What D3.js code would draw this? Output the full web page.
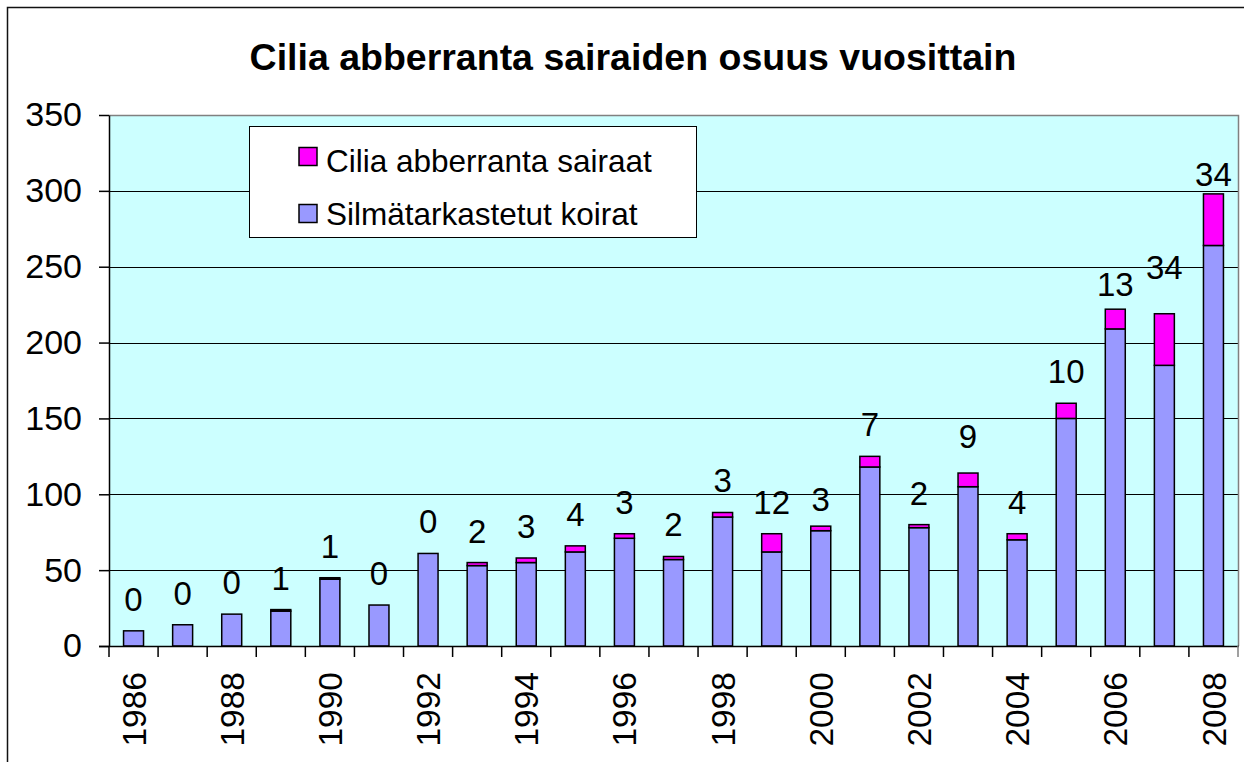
<!DOCTYPE html>
<html>
<head>
<meta charset="utf-8">
<script src="https://cdn.jsdelivr.net/npm/d3@7"></script>
<style>
  body { margin: 0; background: #fff; }
  text { font-family: "Liberation Sans", Arial, sans-serif; fill: #000; }
</style>
</head>
<body>
<div id="chart"></div>
<script>
// data
var years = [1986, 1987, 1988, 1989, 1990, 1991, 1992, 1993, 1994, 1995, 1996, 1997,
             1998, 1999, 2000, 2001, 2002, 2003, 2004, 2005, 2006, 2007, 2008];
var examined = [10, 14, 21, 23, 44, 27, 61, 53, 55, 62, 71, 57,
                85, 62, 76, 118, 78, 105, 70, 150, 209, 185, 264];
var affected = [0, 0, 0, 1, 1, 0, 0, 2, 3, 4, 3, 2,
                3, 12, 3, 7, 2, 9, 4, 10, 13, 34, 34];
var yTicks = [0, 50, 100, 150, 200, 250, 300, 350];
var xLabelYears = [1986, 1988, 1990, 1992, 1994, 1996, 1998, 2000, 2002, 2004, 2006, 2008];
var seriesNames = ["Cilia abberranta sairaat", "Silmätarkastetut koirat"];
var title = "Cilia abberranta sairaiden osuus vuosittain";

// labels that were dragged by hand in the original (pixels)
var labelNudge = {2000: 5, 2003: -5, 2006: 7, 2007: -15, 2008: 12};

var W = 1244, H = 762;
var plot = {left: 109, right: 1238, top: 115, bottom: 646};
var colBase = "#9999FF", colSick = "#FF00FF", bg = "#CCFFFF";

var svg = d3.select("#chart").append("svg")
    .attr("width", W).attr("height", H);

// outer chart frame
svg.append("rect")
    .attr("x", 7.5).attr("y", 7.5)
    .attr("width", 1262).attr("height", 800)
    .attr("fill", "#fff").attr("stroke", "#111").attr("stroke-width", 1.5);

svg.append("text")
    .attr("x", 633).attr("y", 70)
    .attr("text-anchor", "middle")
    .style("font-size", "37.5px").style("font-weight", "bold")
    .text(title);

var x = d3.scaleBand()
    .domain(years)
    .range([plot.left, plot.right])
    .paddingInner(0.593)
    .paddingOuter(0.2965);

var y = d3.scaleLinear()
    .domain([0, 350])
    .range([plot.bottom, plot.top]);

var step = x.step();

// plot background
svg.append("rect")
    .attr("x", plot.left).attr("y", plot.top)
    .attr("width", plot.right - plot.left).attr("height", plot.bottom - plot.top)
    .attr("fill", bg);

// grid lines
svg.selectAll(".grid")
    .data(yTicks.filter(function(d) { return d > 0 && d < 350; }))
    .enter().append("line")
    .attr("class", "grid")
    .attr("x1", plot.left).attr("x2", plot.right)
    .attr("y1", function(d) { return Math.round(y(d)) + 0.5; })
    .attr("y2", function(d) { return Math.round(y(d)) + 0.5; })
    .attr("stroke", "#000").attr("stroke-width", 1);

// plot border (grey top + right)
svg.append("path")
    .attr("d", "M" + plot.left + "," + (plot.top + 0.5) + "H" + (plot.right + 0.5) + "V" + plot.bottom)
    .attr("fill", "none").attr("stroke", "#808080").attr("stroke-width", 1.5);

// legend
var leg = svg.append("g").attr("class", "legend");
leg.append("rect")
    .attr("x", 249.5).attr("y", 126.5)
    .attr("width", 447).attr("height", 111)
    .attr("fill", "#fff").attr("stroke", "#000").attr("stroke-width", 1);
var legItems = [{name: seriesNames[0], col: colSick}, {name: seriesNames[1], col: colBase}];
var li = leg.selectAll(".li").data(legItems).enter().append("g")
    .attr("transform", function(d, i) { return "translate(0," + (157 + i * 57) + ")"; });
li.append("rect")
    .attr("x", 299).attr("y", -9.5)
    .attr("width", 18).attr("height", 18)
    .attr("fill", function(d) { return d.col; })
    .attr("stroke", "#000").attr("stroke-width", 1.5);
li.append("text")
    .attr("x", 326).attr("y", function(d, i) { return i === 0 ? 15 : 11; })
    .style("font-size", "31.5px")
    .text(function(d) { return d.name; });

// bars
var rows = years.map(function(yr, i) {
    return {year: yr, base: examined[i], sick: affected[i], total: examined[i] + affected[i]};
});

var bar = svg.selectAll(".bar").data(rows).enter().append("g").attr("class", "bar");

bar.append("rect")
    .attr("x", function(d) { return x(d.year); })
    .attr("width", x.bandwidth())
    .attr("y", function(d) { return y(d.base); })
    .attr("height", function(d) { return y(0) - y(d.base); })
    .attr("fill", colBase).attr("stroke", "#000").attr("stroke-width", 1.5);

bar.filter(function(d) { return d.sick > 0; }).append("rect")
    .attr("x", function(d) { return x(d.year); })
    .attr("width", x.bandwidth())
    .attr("y", function(d) { return y(d.total); })
    .attr("height", function(d) { return y(d.base) - y(d.total); })
    .attr("fill", colSick).attr("stroke", "#000").attr("stroke-width", 1.5);

bar.append("text")
    .attr("x", function(d) { return x(d.year) + x.bandwidth() / 2; })
    .attr("y", function(d) { return y(d.total) - 32 + 12 + (labelNudge[d.year] || 0); })
    .attr("text-anchor", "middle")
    .style("font-size", "33px")
    .text(function(d) { return d.sick; });

// y axis
var yAxis = svg.append("g")
    .attr("transform", "translate(" + plot.left + ",0)")
    .call(d3.axisLeft(y).tickValues(yTicks).tickSize(10).tickSizeOuter(0).tickPadding(17));
yAxis.select(".domain").attr("stroke", "#000").attr("stroke-width", 1.5);
yAxis.selectAll(".tick line").attr("stroke", "#000").attr("stroke-width", 1.5);
yAxis.selectAll(".tick text")
    .style("font-size", "34px")
    .style("font-family", "'Liberation Sans', Arial, sans-serif")
    .attr("fill", "#000");

// x axis: baseline, ticks between categories, every other year labelled
var xg = svg.append("g");
xg.append("line")
    .attr("x1", plot.left - 10).attr("x2", plot.right + 1)
    .attr("y1", plot.bottom + 0.5).attr("y2", plot.bottom + 0.5)
    .attr("stroke", "#000").attr("stroke-width", 1.5);
xg.selectAll(".xt").data(d3.range(years.length + 1)).enter().append("line")
    .attr("x1", function(i) { return x.range()[0] + i * step; })
    .attr("x2", function(i) { return x.range()[0] + i * step; })
    .attr("y1", plot.bottom).attr("y2", plot.bottom + 11)
    .attr("stroke", function(i) { return i === years.length ? "#808080" : "#000"; })
    .attr("stroke-width", 1.5);
xg.selectAll(".xl").data(xLabelYears).enter().append("text")
    .attr("transform", function(d) {
        return "translate(" + (x(d) + x.bandwidth() / 2) + "," + 672 + ") rotate(-90)";
    })
    .attr("text-anchor", "end")
    .attr("dy", "0.36em")
    .style("font-size", "33.5px")
    .text(function(d) { return d; });
</script>
</body>
</html>
